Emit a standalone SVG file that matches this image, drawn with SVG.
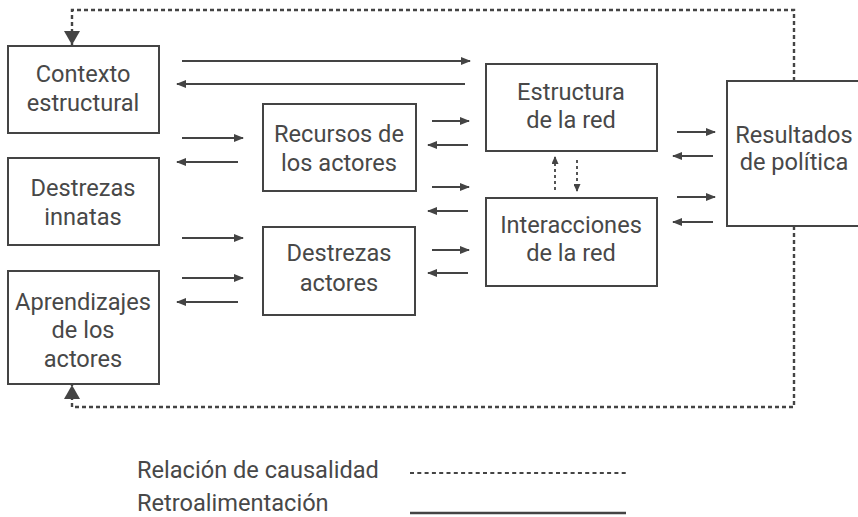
<svg xmlns="http://www.w3.org/2000/svg" width="858" height="517" viewBox="0 0 858 517">
<style>
.box{fill:#fff;stroke:#444;stroke-width:2}
.t{font-family:Roboto,"Liberation Sans",sans-serif;font-size:23.6px;fill:#484848;text-anchor:middle}
.lt{font-family:Roboto,"Liberation Sans",sans-serif;font-size:23.6px;fill:#484848}
.a{stroke:#444;stroke-width:2.2;fill:none;marker-end:url(#ah)}
.d{stroke:#444;stroke-width:2.4;fill:none;stroke-dasharray:4 3;marker-end:url(#ahb)}
.ds{stroke:#444;stroke-width:1.8;fill:none;stroke-dasharray:3 3;marker-end:url(#ahs)}
</style>
<defs>
<marker id="ah" markerWidth="10" markerHeight="8" refX="9" refY="4" orient="auto" markerUnits="userSpaceOnUse">
<path d="M0,0 L10,4 L0,8 Z" fill="#444"/>
</marker>
<marker id="ahs" markerWidth="8" markerHeight="7" refX="7" refY="3.5" orient="auto" markerUnits="userSpaceOnUse">
<path d="M0,0 L8,3.5 L0,7 Z" fill="#444"/>
</marker>
<marker id="ahb" markerWidth="15" markerHeight="16" refX="14" refY="8" orient="auto" markerUnits="userSpaceOnUse">
<path d="M0,0 L14,8 L0,16 Z" fill="#444"/>
</marker>
</defs>

<g id="connectors">
<line class="a" x1="182" y1="61" x2="470" y2="61"/>
<line class="a" x1="465" y1="84" x2="177" y2="84"/>
<line class="a" x1="182" y1="138" x2="243" y2="138"/>
<line class="a" x1="238" y1="162" x2="177" y2="162"/>
<line class="a" x1="182" y1="238" x2="243" y2="238"/>
<line class="a" x1="182" y1="278" x2="243" y2="278"/>
<line class="a" x1="238" y1="302" x2="177" y2="302"/>
<line class="a" x1="432" y1="121" x2="469" y2="121"/>
<line class="a" x1="468" y1="145" x2="428" y2="145"/>
<line class="a" x1="432" y1="187" x2="469" y2="187"/>
<line class="a" x1="468" y1="211" x2="428" y2="211"/>
<line class="a" x1="432" y1="250" x2="469" y2="250"/>
<line class="a" x1="468" y1="273" x2="428" y2="273"/>
<line class="a" x1="677" y1="132" x2="715" y2="132"/>
<line class="a" x1="713" y1="156" x2="673" y2="156"/>
<line class="a" x1="677" y1="197" x2="715" y2="197"/>
<line class="a" x1="713" y1="222" x2="673" y2="222"/>
<line class="ds" x1="555" y1="190" x2="555" y2="157"/>
<line class="ds" x1="577" y1="160" x2="577" y2="191"/>
<path class="d" d="M794,81 V10 H72 V45"/>
<path class="d" d="M794,226 V407 H72 V385"/>
</g>

<g id="contexto"><rect class="box" x="8" y="46" width="151" height="87"/>
<text class="t" x="83" y="82">Contexto</text><text class="t" x="83" y="111">estructural</text></g>
<g id="destrezas-innatas"><rect class="box" x="8" y="158" width="151" height="87"/>
<text class="t" x="83" y="196">Destrezas</text><text class="t" x="83" y="225">innatas</text></g>
<g id="aprendizajes"><rect class="box" x="8" y="271" width="151" height="113"/>
<text class="t" x="83" y="310">Aprendizajes</text><text class="t" x="83" y="338">de los</text><text class="t" x="83" y="367">actores</text></g>
<g id="recursos"><rect class="box" x="263" y="104" width="153" height="87"/>
<text class="t" x="339" y="142">Recursos de</text><text class="t" x="339" y="171">los actores</text></g>
<g id="destrezas-actores"><rect class="box" x="263" y="227" width="152" height="88"/>
<text class="t" x="339" y="261">Destrezas</text><text class="t" x="339" y="291">actores</text></g>
<g id="estructura"><rect class="box" x="486" y="64" width="171" height="87"/>
<text class="t" x="571" y="100">Estructura</text><text class="t" x="571" y="128">de la red</text></g>
<g id="interacciones"><rect class="box" x="486" y="198" width="171" height="88"/>
<text class="t" x="571" y="233">Interacciones</text><text class="t" x="571" y="261">de la red</text></g>
<g id="resultados"><rect class="box" x="727" y="81" width="140" height="145"/>
<text class="t" x="794" y="143">Resultados</text><text class="t" x="794" y="170">de política</text></g>

<g id="legend">
<text class="lt" x="137" y="478">Relación de causalidad</text>
<text class="lt" x="137" y="511">Retroalimentación</text>
<line x1="410" y1="473" x2="626" y2="473" stroke="#444" stroke-width="2.2" stroke-dasharray="4 3.3"/>
<line x1="410" y1="513" x2="626" y2="513" stroke="#444" stroke-width="2.4"/>
</g>
</svg>
